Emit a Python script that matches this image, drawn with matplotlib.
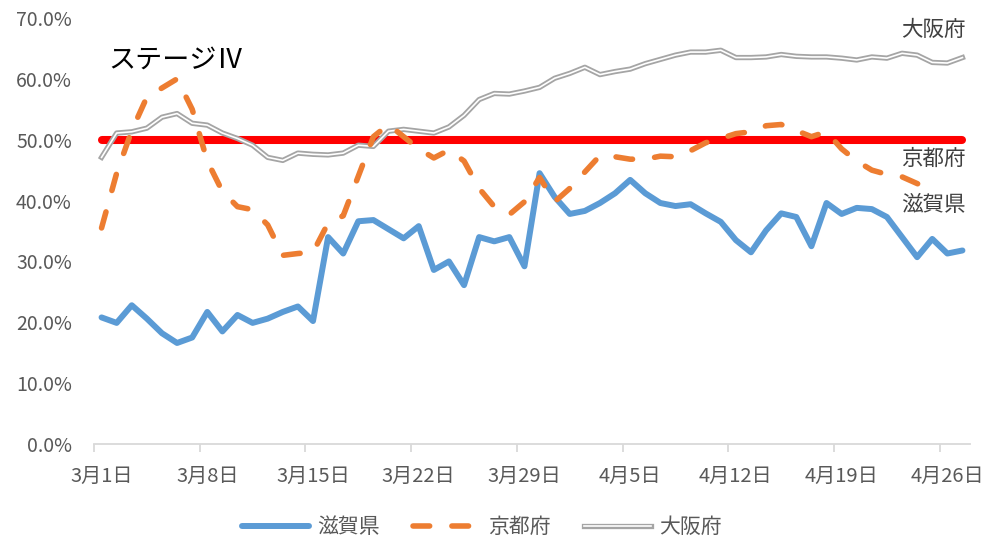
import matplotlib
matplotlib.use("Agg")
import matplotlib.pyplot as plt
import matplotlib.patheffects as pe
import numpy as np
from matplotlib.ticker import FixedLocator

plt.rcParams['font.family'] = ['Noto Sans CJK JP', 'DejaVu Sans']

# 3/1 .. 4/27 (58 days)
shiga = [20.8, 19.9, 22.8, 20.6, 18.2, 16.6, 17.5, 21.7, 18.5, 21.2,
         19.9, 20.6, 21.7, 22.6, 20.2, 34.0, 31.3, 36.6, 36.8, 35.3,
         33.8, 35.8, 28.6, 30.0, 26.1, 34.0, 33.3, 34.0, 29.2, 44.5,
         40.6, 37.8, 38.3, 39.6, 41.2, 43.4, 41.2, 39.6, 39.1, 39.4,
         37.9, 36.5, 33.5, 31.5, 35.1, 37.9, 37.3, 32.5, 39.6, 37.8,
         38.8, 38.6, 37.3, 34.0, 30.7, 33.7, 31.3, 31.8]
kyoto = [35.5, 44.5, 51.5, 57.0, 58.5, 60.0, 55.0, 46.5, 41.5, 39.0,
         38.5, 36.0, 31.0, 31.3, 31.5, 36.3, 37.5, 44.0, 50.5, 52.5,
         50.5, 48.5, 47.0, 48.3, 46.5, 42.0, 39.0, 37.7, 39.8, 43.8,
         39.8, 42.0, 44.7, 47.4, 47.2, 46.8, 46.8, 47.3, 47.2, 48.2,
         49.5, 50.2, 51.0, 51.3, 52.3, 52.5, 51.5, 50.5, 51.3, 48.5,
         46.5, 45.0, 44.3, 43.9, 42.8, 41.6, np.nan, np.nan]
osaka = [47.1, 51.1, 51.3, 51.9, 53.7, 54.3, 52.7, 52.4, 51.1, 50.2,
         49.1, 47.1, 46.6, 47.8, 47.6, 47.5, 47.8, 49.1, 48.9, 51.4,
         51.7, 51.4, 51.1, 52.1, 54.0, 56.6, 57.6, 57.5, 58.0, 58.6,
         60.1, 60.9, 61.9, 60.7, 61.2, 61.6, 62.5, 63.2, 63.9, 64.4,
         64.4, 64.7, 63.5, 63.5, 63.6, 64.0, 63.7, 63.6, 63.6, 63.4,
         63.1, 63.6, 63.4, 64.2, 63.9, 62.7, 62.6, 63.5]
threshold = [50.0] * 58

tick_labels = ['3月1日', '3月8日', '3月15日', '3月22日', '3月29日',
               '4月5日', '4月12日', '4月19日', '4月26日']
y_ticks = [0, 10, 20, 30, 40, 50, 60, 70]

W, H = 989, 541
fig = plt.figure(figsize=(W / 100, H / 100), dpi=100)
ax = fig.add_axes([94 / W, 1 - 444 / H, (970 - 94) / W, (444 - 18) / H])

x = np.arange(len(shiga))

ax.plot(x, threshold, color='#FF0000', lw=5.8, solid_capstyle='round',
        label='_nolegend_', zorder=2)
ax.plot(x, osaka, color='white', lw=1.2, label='大阪府', zorder=3,
        path_effects=[pe.Stroke(linewidth=3.8, foreground='#A5A5A5'), pe.Normal()])
ax.plot(x, shiga, color='#5B9BD5', lw=4.3, label='滋賀県', zorder=4,
        solid_joinstyle='round', solid_capstyle='round')
ax.plot(x, kyoto, color='#ED7D31', lw=4.0, label='京都府', zorder=5,
        dashes=(3, 4), dash_capstyle='round', dash_joinstyle='round')

ax.set_xlim(-0.5, 57.5)
ax.set_ylim(0, 70)

ax.set_yticks(y_ticks)
ax.set_yticklabels([f'{v:.1f}%' for v in y_ticks])
ax.tick_params(axis='y', length=0, pad=16, labelsize=14, labelcolor='#595959')

ax.set_xticks(np.arange(0, 57, 7))
ax.set_xticklabels(tick_labels)
ax.xaxis.set_minor_locator(FixedLocator(np.arange(-0.5, 57, 7)))
ax.tick_params(axis='x', which='major', length=0, pad=16, labelsize=14.5,
               labelcolor='#595959')
ax.tick_params(axis='x', which='minor', length=6, width=1.3, color='#D9D9D9')

for s in ['left', 'right', 'top']:
    ax.spines[s].set_visible(False)
ax.spines['bottom'].set_color('#D9D9D9')
ax.spines['bottom'].set_linewidth(1.3)

def ftext(px, py, s, **kw):
    fig.text(px / W, 1 - py / H, s, **kw)

ftext(108, 60, 'ステージⅣ', fontsize=19.5, color='black', ha='left', va='center')
ftext(966, 30, '大阪府', fontsize=15.5, color='#404040', ha='right', va='center')
ftext(966, 159, '京都府', fontsize=15.5, color='#404040', ha='right', va='center')
ftext(966, 205, '滋賀県', fontsize=15.5, color='#404040', ha='right', va='center')

handles, labels = ax.get_legend_handles_labels()
order = [labels.index('滋賀県'), labels.index('京都府'), labels.index('大阪府')]
leg = fig.legend([handles[i] for i in order], [labels[i] for i in order],
                 loc='center', bbox_to_anchor=(482 / W, 1 - 527 / H),
                 ncol=3, frameon=False, fontsize=15, handlelength=3.2,
                 handletextpad=0.4, columnspacing=1.6, labelcolor='#595959')

fig.savefig('out.png', dpi=100)
